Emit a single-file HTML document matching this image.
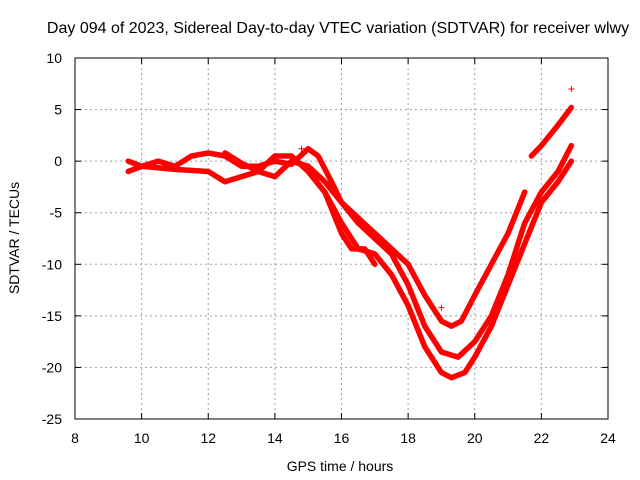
<!DOCTYPE html>
<html><head><meta charset="utf-8"><style>
body{margin:0;background:#fff}
svg{display:block;font-family:"Liberation Sans",sans-serif;font-size:14px}
</style></head><body>
<svg id="chart" width="640" height="480">
<rect width="640" height="480" fill="#fff"/>
<g id="grid"></g>
<rect x="75" y="58" width="533" height="361" fill="none" stroke="#000" stroke-width="1"/>
<g id="ticks"></g>
<g id="series"></g>
<text x="338" y="33" text-anchor="middle" font-size="16">Day 094 of 2023, Sidereal Day-to-day VTEC variation (SDTVAR) for receiver wlwy</text>
<text x="340" y="471" text-anchor="middle">GPS time / hours</text>
<text transform="translate(19,238) rotate(-90)" text-anchor="middle">SDTVAR / TECUs</text>
</svg>
<script>
const xTicks=[8,10,12,14,16,18,20,22,24];
const yTicks=[10,5,0,-5,-10,-15,-20,-25];
const track1=[[9.6,0],[10,-0.5],[10.5,0],[11,-0.5],[11.5,0.5],[12,0.8],[12.5,0.5],[13,-0.5],[13.5,-0.5],[14,0],[14.5,-0.3],[15,1.2],[15.3,0.5],[15.7,-2],[16,-4],[16.5,-5.5],[17,-7],[17.5,-8.5],[18,-10],[18.5,-13],[19,-15.5],[19.3,-16],[19.6,-15.5],[20,-13],[20.5,-10],[21,-7],[21.5,-3]];
const track1b=[[21.7,0.5],[22,1.5],[22.5,3.5],[22.9,5.2]];
const track2=[[12.5,0.8],[13,-0.2],[13.5,-1],[14,-1.5],[14.5,0],[15,-0.5],[15.5,-2],[16,-4],[16.5,-6],[17,-7.5],[17.5,-9],[18,-12],[18.5,-16],[19,-18.5],[19.5,-19],[20,-17.5],[20.5,-15],[21,-11],[21.5,-6],[22,-3],[22.5,-1],[22.9,1.5]];
const track3=[[15,-1],[15.5,-3],[16,-6],[16.5,-8.5],[17,-9],[17.5,-11],[18,-14],[18.5,-18],[19,-20.5],[19.3,-21],[19.7,-20.5],[20,-19],[20.5,-16],[21,-12],[21.5,-8],[22,-4],[22.5,-2],[22.9,0]];
const track4=[[9.6,-1],[10,-0.5],[11,-0.8],[12,-1],[12.5,-2],[13,-1.5],[13.5,-1],[14,0.5],[14.5,0.5],[15,-1],[15.5,-3],[16,-7],[16.3,-8.5],[16.7,-8.5],[17,-10]];
const track5=[[16.5,-6],[17,-7],[17.5,-8.5],[18,-10]];
const outliers=[[19,-14.2],[22.9,7],[14.8,1.2]];
const NS='http://www.w3.org/2000/svg';
function X(h){return 75+(h-8)*533/16;}
function Y(v){return 58+(10-v)*361/35;}
function mk(t,a,p){const e=document.createElementNS(NS,t);for(const k in a)e.setAttribute(k,a[k]);p.appendChild(e);return e;}
const grid=document.getElementById('grid'),ticks=document.getElementById('ticks'),ser=document.getElementById('series');
xTicks.forEach(t=>{const x=X(t);
 if(t>8&&t<24){const g=mk('line',{x1:x,x2:x,y1:58,y2:419,stroke:'#a0a0a0','stroke-dasharray':'2,3'},grid);}
 mk('line',{x1:x,x2:x,y1:419,y2:413,stroke:'#000'},ticks);mk('line',{x1:x,x2:x,y1:58,y2:64,stroke:'#000'},ticks);
 const l=mk('text',{x:x,y:443,'text-anchor':'middle'},ticks);l.textContent=t;
 });
yTicks.forEach(t=>{const y=Y(t);
 if(t<10&&t>-25){const g=mk('line',{x1:75,x2:608,y1:y,y2:y,stroke:'#a0a0a0','stroke-dasharray':'2,3'},grid);}
 mk('line',{x1:75,x2:81,y1:y,y2:y,stroke:'#000'},ticks);mk('line',{x1:608,x2:602,y1:y,y2:y,stroke:'#000'},ticks);
 const l=mk('text',{x:62,y:y+5,'text-anchor':'end'},ticks);l.textContent=t;
 });
[track1,track1b,track2,track3,track4,track5].forEach(tr=>{
 const p=mk('polyline',{points:tr.map(d=>X(d[0])+','+Y(d[1])).join(' '),fill:'none',stroke:'#f00','stroke-width':5.5,'stroke-linejoin':'round','stroke-linecap':'round'},ser);
 });
outliers.forEach(d=>{const x=X(d[0]),y=Y(d[1]);
 const g=mk('path',{d:`M${x-3},${y}H${x+3}M${x},${y-3}V${y+3}`,stroke:'#f00','stroke-width':1},ser);
 });
</script>
</body></html>
